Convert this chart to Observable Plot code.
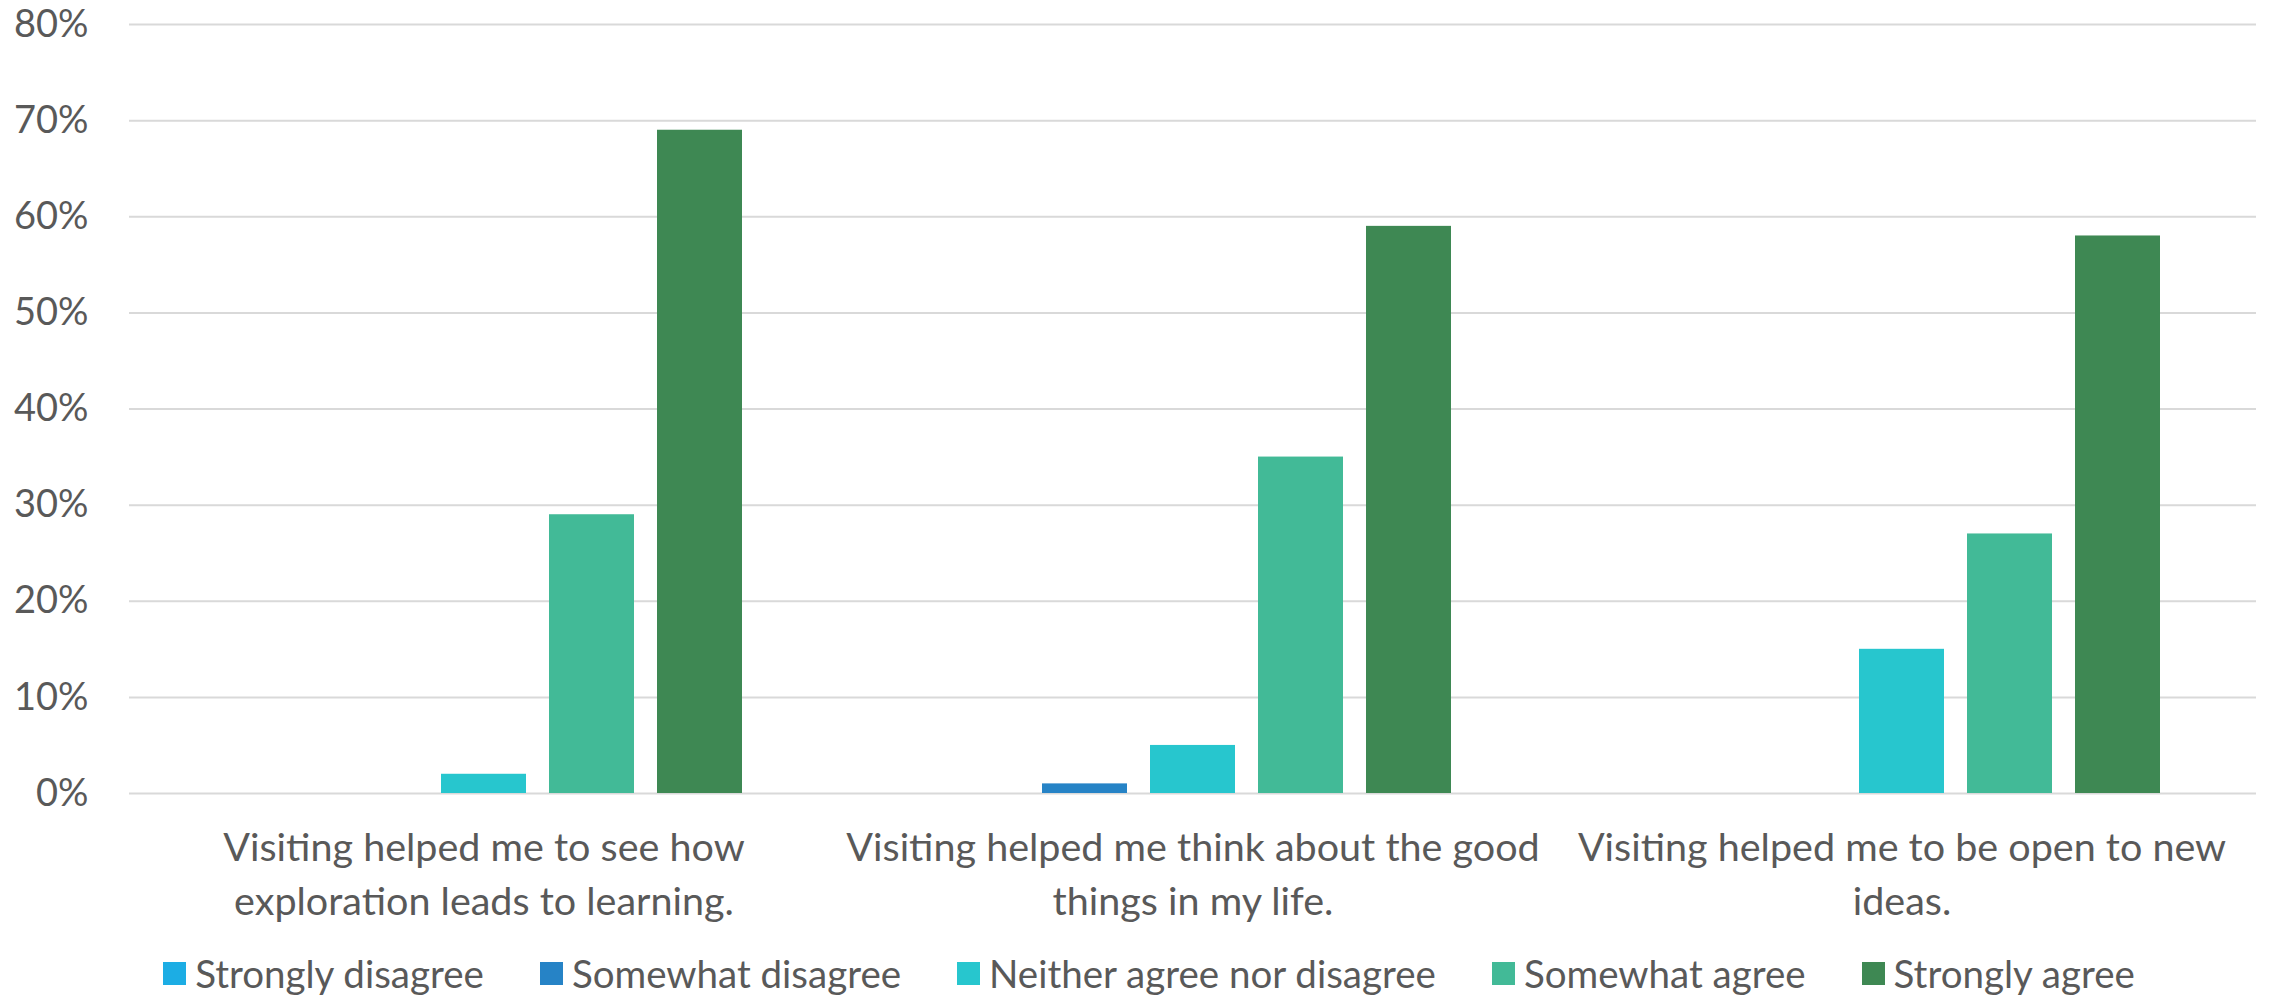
<!DOCTYPE html>
<html>
<head>
<meta charset="utf-8">
<script src="https://cdn.jsdelivr.net/npm/d3@7"></script>
<script src="https://cdn.jsdelivr.net/npm/@observablehq/plot@0.6"></script>
<style>
  html, body { margin: 0; padding: 0; background: #fff; }
  #chart { width: 2270px; }
  .legend { display: flex; justify-content: center; align-items: center; gap: 56px;
            font-family: Lato, sans-serif; font-size: 38.5px; color: #595959;
            height: 58px; margin-top: 4px; padding-left: 28px; }
  .legend .item { display: flex; align-items: center; }
  .legend .sw { width: 23px; height: 23px; margin-right: 9px; display: inline-block; }
</style>
</head>
<body>
<div id="chart"></div>
<script>
const categories = [
  "Visiting helped me to see how exploration leads to learning.",
  "Visiting helped me think about the good things in my life.",
  "Visiting helped me to be open to new ideas."
];
const categoryLabels = [
  ["Visiting helped me to see how", "exploration leads to learning."],
  ["Visiting helped me think about the good", "things in my life."],
  ["Visiting helped me to be open to new", "ideas."]
];
const responses = ["Strongly disagree", "Somewhat disagree", "Neither agree nor disagree", "Somewhat agree", "Strongly agree"];
const colors = ["#1CADE4", "#2683C6", "#27C6CE", "#42BA97", "#3E8853"];
const stronglyDisagree = [0, 0, 0];
const somewhatDisagree = [0, 1, 0];
const neitherAgree = [2, 5, 15];
const somewhatAgree = [29, 35, 27];
const stronglyAgree = [69, 59, 58];
const yTicks = [0, 10, 20, 30, 40, 50, 60, 70, 80];

const series = [stronglyDisagree, somewhatDisagree, neitherAgree, somewhatAgree, stronglyAgree];
const data = [];
categories.forEach((c, ci) => {
  responses.forEach((r, ri) => {
    data.push({category: c, response: r, value: series[ri][ci]});
  });
});

const chart = Plot.plot({
  width: 2270,
  height: 940,
  marginTop: 24,
  marginBottom: 147,
  marginLeft: 129,
  marginRight: 14,
  style: {fontFamily: "Lato, sans-serif", fontSize: "37px", color: "#595959", background: "#fff"},
  fx: {domain: categories, padding: 0, axis: null},
  x: {domain: responses, paddingInner: 0.21, paddingOuter: 0.86, axis: null},
  y: {domain: [0, 80], axis: null},
  color: {domain: responses, range: colors},
  marks: [
    Plot.gridY(yTicks, {stroke: "#d9d9d9", strokeOpacity: 1, strokeWidth: 2}),
    Plot.barY(data, {fx: "category", x: "response", y: "value", fill: "response"}),
    Plot.axisY(yTicks, {tickSize: 0, tickPadding: 41, tickFormat: d => d + "%", fontSize: 38, label: null}),
    Plot.text(categories, {
      fx: d => d,
      text: (d, i) => categoryLabels[i].join("\n"),
      frameAnchor: "bottom",
      lineAnchor: "top",
      dy: 30,
      lineHeight: 1.35,
      fontSize: 39.5,
      fill: "#595959"
    })
  ]
});
document.getElementById("chart").appendChild(chart);

const legend = document.createElement("div");
legend.className = "legend";
responses.forEach((r, i) => {
  const item = document.createElement("div");
  item.className = "item";
  const sw = document.createElement("span");
  sw.className = "sw";
  sw.style.background = colors[i];
  const label = document.createElement("span");
  label.textContent = r;
  item.appendChild(sw);
  item.appendChild(label);
  legend.appendChild(item);
});
document.body.appendChild(legend);
</script>
</body>
</html>
